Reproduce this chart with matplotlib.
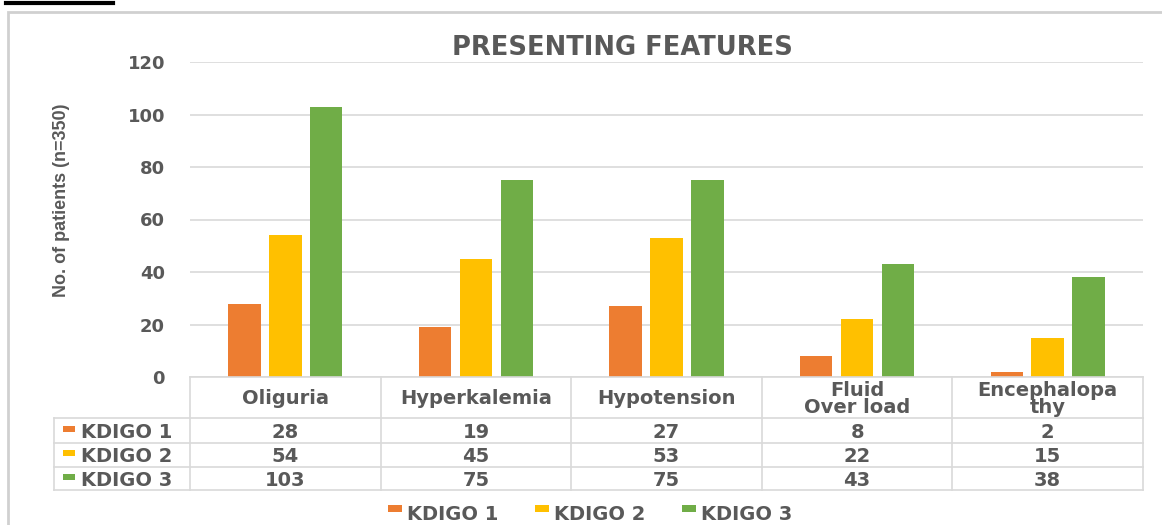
import matplotlib
matplotlib.use("Agg")
import matplotlib.pyplot as plt
from matplotlib.transforms import blended_transform_factory
from matplotlib.patches import Rectangle
from matplotlib.lines import Line2D

categories = ["Oliguria", "Hyperkalemia", "Hypotension", "Fluid\nOver load", "Encephalopa\nthy"]
series_names = ["KDIGO 1", "KDIGO 2", "KDIGO 3"]
kdigo1 = [28, 19, 27, 8, 2]
kdigo2 = [54, 45, 53, 22, 15]
kdigo3 = [103, 75, 75, 43, 38]
yticks = [0, 20, 40, 60, 80, 100, 120]
colors = ["#ED7D31", "#FFC000", "#70AD47"]
TXT = "#595959"
GRID = "#D9D9D9"
FONT = "DejaVu Sans"
FONT2 = "Liberation Sans"

W, H = 1162, 525
fig = plt.figure(figsize=(W / 100, H / 100), dpi=100)
plt.rcParams["font.family"] = FONT

def fx(px):
    return px / W

def fy(py):
    return 1 - py / H

# outer border
fig.add_artist(Rectangle((fx(8), fy(600)), fx(1200), fy(12) - fy(600), transform=fig.transFigure,
                         fill=False, edgecolor="#D0D0D0", linewidth=2))
# cut-off caption underline at top
fig.add_artist(Line2D([fx(6), fx(113)], [fy(3), fy(3)], transform=fig.transFigure, color="black", linewidth=3))

L, R, T, B = 190, 1143, 62, 377
ax = fig.add_axes([fx(L), fy(B), fx(R) - fx(L), fy(T) - fy(B)])
ax.set_xlim(-0.5, len(categories) - 0.5)
ax.set_ylim(0, 120)
ax.set_yticks(yticks)
ax.set_yticklabels([str(v) for v in yticks], fontsize=13, fontweight="bold", color=TXT, fontfamily=FONT)
ax.tick_params(axis="y", length=0, pad=18)
ax.set_xticks([])
for s in ax.spines.values():
    s.set_visible(False)
ax.yaxis.grid(True, color=GRID, linewidth=1.2)
ax.set_axisbelow(True)

series = [kdigo1, kdigo2, kdigo3]
offsets = [-0.215, 0.0, 0.215]
for vals, off, c in zip(series, offsets, colors):
    ax.bar([i + off for i in range(len(categories))], vals, width=0.17, color=c, zorder=3)

fig.text(fx(622), fy(48), "PRESENTING FEATURES", ha="center", va="center", fontsize=18.5,
         fontweight="bold", color=TXT, fontfamily=FONT)
fig.text(fx(62), fy(200), "No. of patients (n=350)", ha="center", va="center", rotation=90,
         fontsize=13, fontweight="bold", color=TXT, fontfamily=FONT2)

# data table
tr = blended_transform_factory(ax.transData, fig.transFigure)
n = len(categories)
row_y = [377, 418, 443, 467, 490]
lw = 1.2
fig.add_artist(Line2D([fx(L), fx(R)], [fy(row_y[0])] * 2, transform=fig.transFigure, color=GRID, lw=lw))
for yy in row_y[1:]:
    fig.add_artist(Line2D([fx(54), fx(R)], [fy(yy)] * 2, transform=fig.transFigure, color=GRID, lw=lw))
fig.add_artist(Line2D([fx(54), fx(54)], [fy(row_y[1]), fy(row_y[-1])], transform=fig.transFigure, color=GRID, lw=lw))
for i in range(n + 1):
    fig.add_artist(Line2D([i - 0.5, i - 0.5], [fy(row_y[0]), fy(row_y[-1])], transform=tr, color=GRID, lw=lw))
for i, cat in enumerate(categories):
    fig.text(i, fy(399), cat, transform=tr, ha="center", va="center", fontsize=14, fontweight="bold",
             color=TXT, fontfamily=FONT, linespacing=0.85)
for r, (name, vals, c) in enumerate(zip(series_names, series, colors)):
    yc = (row_y[r + 1] + row_y[r + 2]) / 2
    fig.add_artist(Rectangle((fx(63), fy(yc + 1)), fx(12), fy(yc - 5) - fy(yc + 1), transform=fig.transFigure,
                             facecolor=c, edgecolor="none"))
    fig.text(fx(81), fy(yc + 2), name, ha="left", va="center", fontsize=14, fontweight="bold",
             color=TXT, fontfamily=FONT)
    for i, v in enumerate(vals):
        fig.text(i, fy(yc + 2), str(v), transform=tr, ha="center", va="center", fontsize=14,
                 fontweight="bold", color=TXT, fontfamily=FONT)

# legend
leg_x = [388, 535, 682]
for name, c, x0 in zip(series_names, colors, leg_x):
    fig.add_artist(Rectangle((fx(x0), fy(512)), fx(14), fy(505) - fy(512), transform=fig.transFigure,
                             facecolor=c, edgecolor="none"))
    fig.text(fx(x0 + 19), fy(514), name, ha="left", va="center", fontsize=14, fontweight="bold",
             color=TXT, fontfamily=FONT)

fig.savefig("out.png", dpi=100, facecolor="white")
